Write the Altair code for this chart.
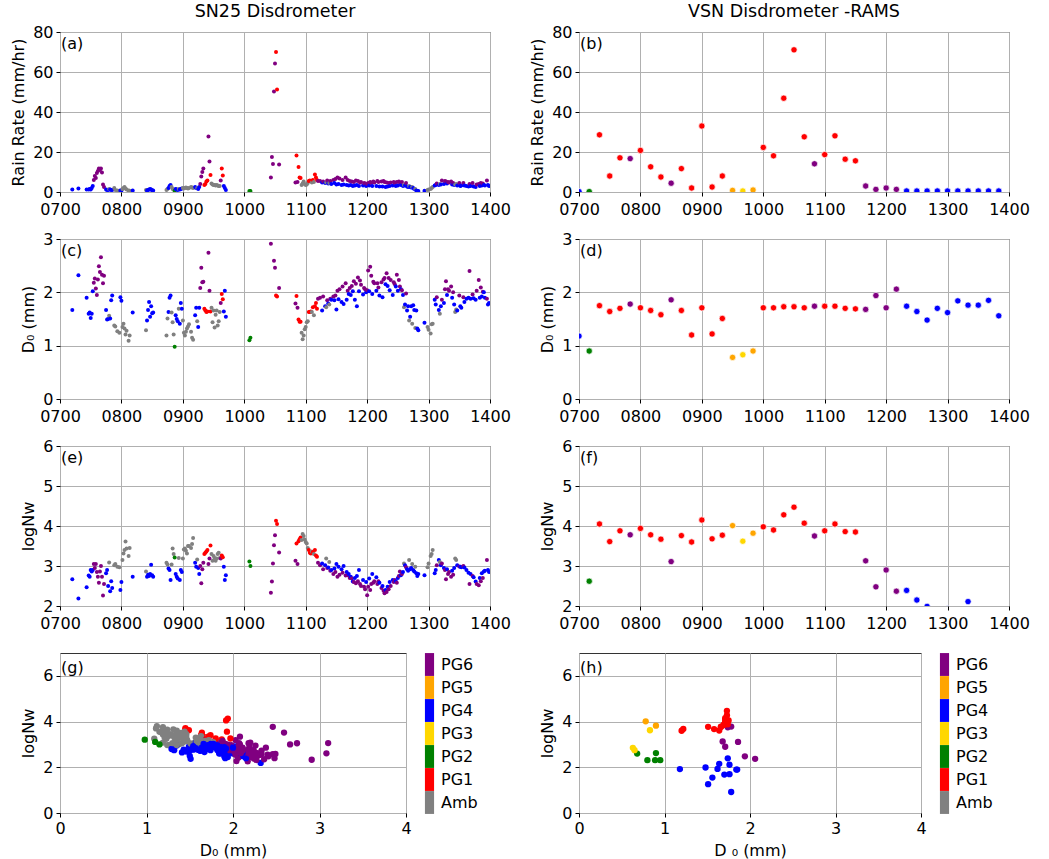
import altair as alt
import pandas as pd

CATS = ["PG6", "PG5", "PG4", "PG3", "PG2", "PG1", "Amb"]
COLS = ["#800080", "#FFA500", "#0000FF", "#FFD700", "#008000", "#FF0000", "#808080"]
CODE = {"6": "PG6", "5": "PG5", "4": "PG4", "3": "PG3", "2": "PG2", "1": "PG1", "A": "Amb"}

# ---------------- SN25 disdrometer (minutes after 07:00) ----------------
sn_t = [12, 18, 26, 28, 29, 30, 31, 32, 33, 34, 35, 36, 37, 38, 39, 40, 41, 42, 43, 45, 46, 47, 48, 49, 50, 51, 53, 54, 56, 58, 59, 60, 61, 62, 63, 64, 65, 67, 68, 71,
        84, 85, 86, 87, 88, 89, 90, 91,
        104, 105, 106, 107, 108, 109, 110, 111, 112, 113, 114, 115, 116, 117, 118, 119, 120, 121, 122, 123, 124, 125, 126, 128, 129, 130, 132, 133,
        134, 135, 136, 137, 138, 139, 140, 141, 142, 143, 144, 145, 146, 147, 148, 149, 150, 151, 152, 153, 154, 155, 156, 157, 158, 159, 160, 161, 162,
        185, 186,
        206, 207, 208, 209, 210, 211, 212, 214,
        230, 231, 232, 233, 234, 235, 236, 237, 238, 239, 240, 241, 242, 243, 244, 245, 246, 247, 248, 249, 250, 251, 252,
        254, 256, 257, 259, 260, 261, 262, 263, 264, 265, 267, 268, 269, 270, 271, 272, 273, 275, 276, 277, 279, 280, 281, 282, 283, 284, 285, 286, 287, 288, 289, 290, 291, 292, 293, 294, 296, 297, 298, 299, 300,
        301, 302, 303, 304, 305, 306, 307, 309, 310, 311, 312, 314, 315, 316, 317, 318, 319, 320, 321, 322, 323, 325, 326, 327, 328, 329, 330, 331, 332, 333, 334, 335, 336, 337, 338, 339, 340, 341, 342, 343, 344, 345, 346, 347, 348, 349, 350,
        356, 359, 360, 362, 363, 364, 366, 367,
        368, 370, 371, 372, 373, 375, 376, 377, 378, 379, 380, 382, 383, 384, 385, 386, 387, 388, 390, 391, 392, 394, 395, 397,
        399, 400, 401, 403, 404, 406, 407, 409, 410, 411, 412, 413, 414, 415, 417, 418, 419]

sn_cat = ("4 4 4 4 4 4 4 4 6 6 6 6 6 6 6 6 6 6 6 4 4 4 A 4 4 4 A A A A 4 4 A A A A A A A 4 "
          "A 4 4 4 4 4 4 4 "
          "A A 4 4 4 A A A 2 4 4 4 A 4 4 4 A A A A A A A A A A 4 4 "
          "A 4 4 6 6 6 6 1 1 1 1 6 6 1 A A A A A A A A A 6 1 1 4 4 4 "
          "2 2 "
          "6 6 6 6 6 1 1 6 "
          "6 1 6 1 1 1 A A A A A A A 1 1 1 A 1 A 1 1 1 6 "
          "6 4 6 4 A 6 4 A 6 4 6 4 6 4 6 4 6 4 6 4 6 4 6 4 6 4 6 4 6 4 6 4 6 4 6 6 4 6 6 4 6 "
          "6 4 6 6 4 6 6 4 6 6 4 6 4 6 6 4 6 4 6 4 6 4 6 6 4 6 4 6 6 4 6 4 A 4 6 4 4 A 4 4 A 4 4 A 4 4 4 "
          "4 A A A A A 4 4 "
          "6 4 A 4 6 4 6 6 4 6 6 6 4 6 4 A A 4 6 4 4 6 4 4 "
          "4 6 4 6 4 4 6 6 4 6 4 6 4 4 6 4 4").split()

sn_rr = [1.3, 1.8, 1.3, 1.3, 1.5, 1.3, 2.0, 3.0, 6.0, 8.0, 7.0, 9.5, 10.5, 11.8, 11.0, 11.8, 9.8, 3.8, 2.5, 1.3, 1.0, 1.0, 1.5, 1.3, 1.0, 1.0, 2.0, 1.0, 0.8, 0.6, 0.7, 0.8, 1.5, 2.0, 2.5, 1.8, 1.2, 0.8, 0.6, 0.8,
         1.0, 0.8, 1.0, 1.3, 1.5, 1.2, 0.9, 0.8,
         1.0, 1.5, 2.0, 3.0, 3.5, 2.5, 1.5, 1.2, 0.6, 1.5, 1.3, 1.0, 1.5, 1.2, 1.5, 1.8, 2.0, 1.8, 2.0, 2.2, 2.0, 1.8, 2.0, 2.5, 2.2, 2.0, 2.5, 2.0,
         2.0, 1.5, 2.5, 4.0, 7.8, 10.0, 11.8, 3.5, 4.0, 5.2, 5.8, 27.8, 15.2, 8.5, 4.2, 3.8, 3.5, 3.5, 3.3, 3.5, 3.3, 3.0, 3.0, 5.8, 11.7, 8.3, 3.0, 2.0, 1.0,
         0.5, 0.5,
         7.2, 17.5, 14.0, 50.2, 64.2, 70.0, 51.3, 13.8,
         4.7, 18.3, 5.0, 12.5, 7.2, 7.0, 3.5, 4.2, 5.2, 4.0, 3.5, 3.8, 4.5, 5.5, 5.8, 5.5, 4.8, 6.0, 5.0, 8.8, 7.2, 6.0, 5.5,
         5.5, 4.7, 5.2, 4.5, 4.8, 5.8, 4.2, 4.5, 5.5, 4.0, 6.0, 4.5, 6.5, 3.8, 7.2, 4.0, 6.8, 3.5, 6.0, 3.8, 7.2, 3.5, 6.0, 3.3, 5.5, 3.5, 5.2, 3.0, 5.0, 3.2, 5.8, 3.5, 5.5, 3.0, 4.8, 5.0, 3.2, 4.5, 4.2, 3.0, 4.0,
         4.5, 3.3, 5.0, 4.5, 3.0, 5.2, 4.8, 3.0, 5.5, 5.0, 2.8, 5.2, 2.7, 5.5, 5.0, 2.5, 4.8, 2.8, 4.5, 3.0, 4.8, 3.3, 5.0, 4.5, 3.0, 5.0, 3.3, 5.2, 4.8, 3.5, 5.0, 3.0, 3.5, 3.2, 4.5, 2.8, 2.5, 3.0, 2.5, 2.2, 2.5, 2.0, 1.5, 1.5, 0.8, 0.5, 0.5,
         0.6, 1.0, 1.3, 1.5, 2.0, 2.5, 3.3, 3.5,
         4.2, 3.5, 4.0, 3.8, 5.8, 4.0, 5.5, 5.2, 4.2, 5.0, 4.8, 5.2, 3.8, 4.5, 3.5, 3.8, 4.0, 3.3, 4.5, 3.0, 3.2, 4.5, 3.3, 3.0,
         2.8, 4.0, 3.0, 4.5, 2.8, 2.5, 3.8, 4.0, 3.0, 4.5, 3.3, 4.2, 3.5, 3.2, 5.8, 3.5, 3.0]

sn_d0 = [1.67, 2.32, 1.90, 1.60, 1.62, 1.52, 1.60, 2.02, 2.18, 2.26, 2.07, 1.95, 2.24, 2.49, 2.38, 2.66, 2.33, 2.17, 2.31, 1.67, 1.49, 1.50, 1.56, 1.51, 1.85, 1.94, 1.38, 1.36, 1.27, 1.24, 1.91, 1.84, 1.35, 1.41, 1.32, 1.21, 1.28, 1.09, 1.19, 1.62,
         1.29, 1.47, 1.67, 1.82, 1.54, 1.74, 1.61, 1.62,
         1.19, 1.51, 1.63, 1.90, 1.94, 1.62, 1.44, 1.21, 0.98, 1.57, 1.50, 1.46, 1.69, 1.41, 1.80, 1.69, 1.47, 1.24, 1.19, 1.26, 1.32, 1.36, 1.40, 1.26, 1.15, 1.11, 1.57, 1.71,
         1.46, 1.35, 1.71, 2.08, 2.46, 2.19, 2.20, 1.69, 1.66, 1.63, 1.64, 2.74, 2.03, 1.64, 1.71, 1.44, 1.66, 1.34, 1.58, 1.66, 1.38, 1.46, 1.63, 1.80, 1.97, 1.87, 1.64, 2.03, 1.54,
         1.10, 1.15,
         2.91, 3.08, 3.10, 2.59, 2.46, 1.94, 1.92, 2.08,
         1.79, 1.93, 1.71, 1.49, 1.45, 1.45, 1.24, 1.12, 1.19, 1.31, 1.35, 1.44, 1.46, 1.63, 1.63, 1.64, 1.63, 1.72, 1.57, 1.74, 1.80, 1.69, 1.88,
         1.90, 1.66, 1.92, 1.74, 1.72, 1.85, 1.79, 1.77, 1.88, 1.86, 1.92, 1.85, 1.94, 1.68, 2.03, 1.87, 2.06, 1.82, 2.11, 1.78, 2.17, 1.86, 2.03, 1.97, 2.08, 1.95, 2.12, 2.02, 2.21, 1.86, 2.16, 1.74, 2.28, 2.02, 2.22, 2.14, 1.96, 2.08, 2.06, 2.00, 2.04,
         2.41, 2.02, 2.48, 2.31, 1.97, 2.20, 2.17, 2.03, 2.17, 2.09, 1.94, 2.19, 1.91, 2.24, 2.27, 2.15, 2.36, 2.12, 2.27, 2.04, 2.23, 1.95, 2.19, 2.15, 2.11, 2.33, 2.03, 2.23, 2.11, 2.06, 2.04, 1.95, 1.72, 1.77, 1.98, 1.66, 1.74, 1.47, 1.54, 1.74, 1.41, 1.76, 1.67, 1.33, 1.66, 1.32, 1.29,
         1.43, 1.35, 1.30, 1.23, 1.40, 1.41, 1.86, 1.77,
         1.91, 1.67, 1.60, 1.74, 1.86, 1.80, 2.06, 2.21, 1.95, 2.06, 2.03, 2.11, 1.90, 2.00, 1.77, 1.63, 1.68, 1.66, 1.94, 1.74, 1.71, 1.91, 1.82, 1.88,
         1.90, 2.40, 1.88, 1.96, 1.89, 1.86, 2.03, 2.23, 1.90, 2.09, 1.92, 2.01, 2.00, 1.90, 1.88, 1.77, 1.80]

sn_nw = [2.67, 2.19, 2.47, 2.76, 2.73, 2.90, 2.86, 2.90, 3.05, 2.95, 3.05, 2.85, 2.73, 2.58, 2.86, 3.00, 2.73, 2.26, 2.55, 2.82, 2.90, 2.50, 3.09, 2.37, 2.62, 2.45, 3.02, 3.05, 2.98, 2.97, 2.40, 2.60, 3.15, 3.31, 3.40, 3.61, 3.44, 3.25, 3.45, 2.73,
         2.86, 2.73, 2.78, 2.75, 2.80, 3.03, 2.77, 2.73,
         3.08, 3.04, 2.94, 2.90, 2.65, 3.04, 3.44, 3.30, 3.21, 2.80, 2.73, 2.69, 3.20, 2.65, 2.90, 2.85, 3.19, 3.41, 3.44, 3.38, 3.31, 3.50, 3.50, 3.45, 3.55, 3.70, 3.08, 2.98,
         3.16, 2.95, 2.80, 3.00, 2.57, 2.92, 3.08, 3.30, 3.33, 3.36, 3.40, 3.05, 3.19, 3.51, 3.30, 3.13, 3.25, 3.20, 3.13, 3.19, 3.30, 3.33, 3.20, 3.19, 3.26, 3.22, 2.98, 2.65, 2.77,
         3.11, 3.00,
         2.33, 2.61, 3.06, 3.52, 3.77, 4.13, 4.05, 3.34,
         3.13, 3.56, 3.05, 3.62, 3.67, 3.71, 3.65, 3.80, 3.75, 3.66, 3.60, 3.56, 3.45, 3.40, 3.33, 3.31, 3.36, 3.35, 3.30, 3.40, 3.26, 3.23, 3.08,
         3.02, 3.06, 2.92, 3.02, 3.19, 2.95, 2.96, 3.10, 2.88, 2.90, 2.80, 2.94, 2.85, 3.05, 2.73, 2.98, 2.78, 2.92, 2.83, 3.00, 2.76, 2.85, 2.77, 2.80, 2.70, 2.73, 2.69, 2.61, 2.60, 2.70, 2.57, 2.75, 2.62, 2.90, 2.55, 2.50, 2.65, 2.48, 2.42, 2.60, 2.27,
         2.48, 2.69, 2.40, 2.55, 2.80, 2.58, 2.62, 2.72, 2.55, 2.62, 2.58, 2.45, 2.50, 2.38, 2.32, 2.40, 2.35, 2.48, 2.42, 2.60, 2.50, 2.65, 2.60, 2.65, 2.62, 2.58, 2.70, 2.75, 2.86, 2.77, 2.80, 2.85, 3.06, 3.02, 2.97, 2.92, 2.88, 3.15, 2.92, 2.95, 3.05, 2.90, 2.86, 2.98, 2.82, 2.75, 2.80,
         2.77, 2.97, 3.06, 3.25, 3.30, 3.40, 2.82, 2.90,
         3.02, 3.15, 3.10, 3.02, 3.06, 2.95, 2.90, 2.67, 2.92, 2.80, 2.85, 2.73, 2.88, 2.78, 2.95, 3.19, 3.15, 3.02, 2.99, 2.98, 2.97, 3.00, 2.96, 2.90,
         2.83, 2.55, 2.80, 2.75, 2.72, 2.61, 2.55, 2.52, 2.70, 2.62, 2.82, 2.70, 2.86, 2.88, 3.15, 2.90, 2.85]

# ---------------- VSN disdrometer - RAMS (minutes after 07:00) ----------------
vs_t = [0, 10, 20, 30, 40, 50, 60, 70, 80, 90, 100, 110, 120, 130, 140, 150, 160, 170, 180, 190, 200,
        210, 220, 230, 240, 250, 260, 270, 280, 290, 300, 310, 320, 330, 340, 350, 360, 370, 380, 390, 400, 410]
vs_cat = ("4 2 1 1 1 6 1 1 1 6 1 1 1 1 1 5 3 5 1 1 1 "
          "1 1 6 1 1 1 1 6 6 6 6 4 4 4 4 4 4 4 4 4 4").split()
vs_rr = [0.2, 0.2, 28.6, 8.0, 17.1, 16.7, 20.8, 12.6, 7.5, 4.4, 11.7, 2.0, 33.0, 2.5, 8.0, 0.8, 0.5, 1.0, 22.3, 18.1, 46.9,
         71.1, 27.6, 14.1, 18.7, 28.1, 16.4, 15.6, 3.0, 1.3, 2.0, 1.3, 0.5, 0.5, 0.5, 0.5, 0.5, 0.5, 0.5, 0.5, 0.5, 0.5]
vs_d0 = [1.18, 0.90, 1.75, 1.64, 1.70, 1.78, 1.71, 1.66, 1.58, 1.86, 1.66, 1.20, 1.71, 1.22, 1.51, 0.78, 0.83, 0.90, 1.71, 1.71, 1.73,
         1.73, 1.71, 1.74, 1.74, 1.74, 1.70, 1.69, 1.68, 1.94, 1.71, 2.06, 1.74, 1.64, 1.48, 1.70, 1.62, 1.84, 1.76, 1.76, 1.85, 1.56]
vs_nw = [1.92, 2.62, 4.05, 3.61, 3.88, 3.78, 3.94, 3.78, 3.67, 3.11, 3.76, 3.60, 4.15, 3.68, 3.77, 4.01, 3.62, 3.82, 3.98, 3.90, 4.28,
         4.47, 4.07, 3.75, 3.88, 4.05, 3.86, 3.85, 3.13, 2.48, 2.90, 2.37, 2.39, 2.15, 1.99, 1.68, 1.93, 1.90, 2.11, 1.70, 1.90, 1.55]
# extra VSN samples seen only in the D0-logNw panel (h)
hx_cat = "2 2 2 2 3 3 4 4".split()
hx_d0 = [0.68, 0.80, 0.89, 0.95, 0.63, 0.65, 1.51, 1.78]
hx_nw = [2.60, 2.31, 2.31, 2.31, 2.85, 2.75, 1.26, 0.92]

sn = pd.DataFrame({"hour": [7 + t / 60 for t in sn_t], "cat": [CODE[c] for c in sn_cat],
                   "rr": sn_rr, "d0": sn_d0, "nw": sn_nw})
vs = pd.DataFrame({"hour": [7 + t / 60 for t in vs_t], "cat": [CODE[c] for c in vs_cat],
                   "rr": vs_rr, "d0": vs_d0, "nw": vs_nw})
hx = pd.DataFrame({"cat": [CODE[c] for c in hx_cat], "d0": hx_d0, "nw": hx_nw})
vs_h = pd.concat([vs[["cat", "d0", "nw"]], hx], ignore_index=True)

COLOR_SCALE = alt.Scale(domain=CATS, range=COLS)
TIME_LABEL = "(datum.value < 10 ? '0' : '') + datum.value + '00'"


def ts_panel(df, field, ydom, yvals, ytitle, label, size, stroke_w, title=None):
    x = alt.X("hour:Q", scale=alt.Scale(domain=[7, 14]),
              axis=alt.Axis(values=list(range(7, 15)), labelExpr=TIME_LABEL, title=None,
                            labelFlush=False, labelOverlap=False, labelPadding=5))
    y = alt.Y(f"{field}:Q", scale=alt.Scale(domain=ydom),
              axis=alt.Axis(values=yvals, title=ytitle, labelOverlap=False))
    pts = alt.Chart(df).mark_circle(size=size, opacity=1, clip=True, stroke="white",
                                    strokeWidth=stroke_w).encode(
        x=x, y=y, color=alt.Color("cat:N", scale=COLOR_SCALE, legend=None))
    lab_df = pd.DataFrame({"hour": [7.0], field: [ydom[1]], "txt": [label]})
    lab = alt.Chart(lab_df).mark_text(align="left", baseline="top", dx=1, dy=4,
                                      fontSize=16, color="black").encode(x=x, y=y, text="txt:N")
    ch = alt.layer(pts, lab).properties(width=430, height=160)
    if title:
        ch = ch.properties(title=alt.TitleParams(title, fontSize=17.5, fontWeight="normal",
                                                 offset=4, color="black"))
    return ch


LEG_PATH = "M-0.4,-1H0.4V1H-0.4Z"


def sc_panel(df, label, xtitle, width):
    x = alt.X("d0:Q", scale=alt.Scale(domain=[0, 4]),
              axis=alt.Axis(values=[0, 1, 2, 3, 4], title=xtitle, labelFlush=False))
    y = alt.Y("nw:Q", scale=alt.Scale(domain=[0, 7]),
              axis=alt.Axis(values=[0, 2, 4, 6], title="logNw"))
    pts = alt.Chart(df).mark_circle(size=40, opacity=1).encode(
        x=x, y=y,
        color=alt.Color("cat:N", scale=COLOR_SCALE,
                        legend=alt.Legend(orient="none", legendX=width + 12, legendY=0, title=None,
                                          symbolType=LEG_PATH, symbolSize=523, symbolStrokeWidth=0,
                                          symbolOpacity=1, rowPadding=0, labelFontSize=16,
                                          labelOffset=0, padding=0, labelColor="black")))
    lab_df = pd.DataFrame({"d0": [0.0], "nw": [7.0], "txt": [label]})
    lab = alt.Chart(lab_df).mark_text(align="left", baseline="top", dx=1, dy=7,
                                      fontSize=16, color="black").encode(x=x, y=y, text="txt:N")
    return alt.layer(pts, lab).properties(width=width, height=160)


a = ts_panel(sn, "rr", [0, 80], [0, 20, 40, 60, 80], "Rain Rate (mm/hr)", "(a)", 16, 0, "SN25 Disdrometer")
b = ts_panel(vs, "rr", [0, 80], [0, 20, 40, 60, 80], "Rain Rate (mm/hr)", "(b)", 40, 0.7, "VSN Disdrometer -RAMS")
c = ts_panel(sn, "d0", [0, 3], [0, 1, 2, 3], "D₀ (mm)", "(c)", 16, 0)
d = ts_panel(vs, "d0", [0, 3], [0, 1, 2, 3], "D₀ (mm)", "(d)", 40, 0.7)
e = ts_panel(sn, "nw", [2, 6], [2, 3, 4, 5, 6], "logNw", "(e)", 16, 0)
f = ts_panel(vs, "nw", [2, 6], [2, 3, 4, 5, 6], "logNw", "(f)", 40, 0.7)
g = sc_panel(sn, "(g)", "D₀ (mm)", 346)
h = sc_panel(vs_h, "(h)", "D ₀ (mm)", 342)

chart = alt.concat(a, b, c, d, e, f, g, h, columns=2, spacing={"row": 47, "column": 89},
                   bounds="flush").resolve_scale(color="independent").properties(
    padding={"left": 10, "top": 2, "right": 5, "bottom": 2}
).configure(font="DejaVu Sans").configure_axis(
    labelFontSize=16, titleFontSize=16, labelColor="black", titleColor="black",
    titleFontWeight="normal", gridColor="#b0b0b0", gridWidth=1, tickColor="black",
    tickSize=4, domain=False, labelPadding=3, titlePadding=6
).configure_view(stroke="#333333", strokeWidth=1)

chart.save("out.html", embed_options={"renderer": "svg", "actions": False})
